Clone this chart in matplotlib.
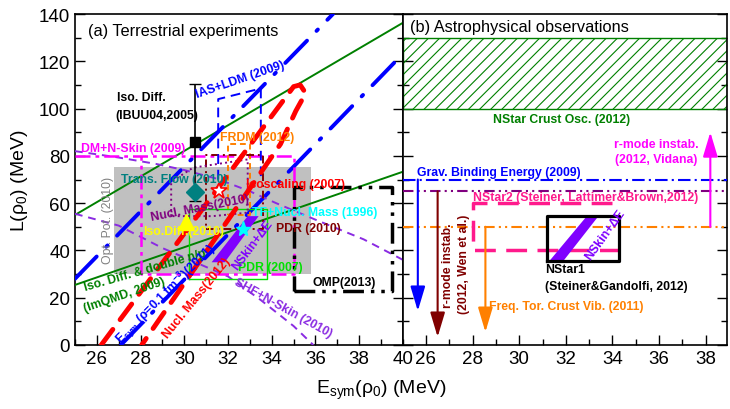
import numpy as np
import matplotlib.pyplot as plt
from matplotlib.ticker import MultipleLocator

plt.rcParams['font.family'] = ['Liberation Sans', 'DejaVu Sans']
plt.rcParams['mathtext.default'] = 'regular'
plt.rcParams['hatch.linewidth'] = 0.8

# ---------------- panel (a): terrestrial experiments ----------------
# boxes: [Esym lo, Esym hi, L lo, L hi]
opt_pot = [26.8, 35.8, 30.2, 75.2]
dm_nskin = [28.0, 35.0, 30.0, 80.0]
frdm = [32.0, 33.0, 55.0, 85.0]
pdr10 = [31.0, 33.6, 49.1, 80.5]
pdr07 = [30.2, 33.8, 28.0, 57.5]
omp13 = [35.0, 39.5, 23.0, 67.0]

# IAS+LDM (open bottom, tilted top)
ias_x = [31.55, 31.55, 33.5, 33.5]
ias_y = [70.0, 104.0, 108.5, 70.0]

# Nucl. Mass (2010) contour
nm10_x = [29.4, 29.4, 30.4, 32.9, 32.9, 31.3, 29.4]
nm10_y = [54.5, 69.0, 75.0, 78.5, 56.0, 54.5, 54.5]

# Nucl. Mass (2012) contour
nm12_x = [26.2, 35.0, 35.3, 35.55, 35.1, 34.4, 28.05]
nm12_y = [0.0, 109.3, 110.0, 106.5, 99.0, 85.0, 0.0]

# ImQMD (2009) boundaries
imqmd_x = [25.0, 40.0]
imqmd_hi = [55.0, 136.3]
imqmd_lo = [25.4, 73.3]

# Esym(rho=0.1 fm^-3) (2011) boundaries
esym_a_x = [25.0, 36.8]
esym_a_y = [28.0, 140.0]
esym_b_x = [27.1, 40.0]
esym_b_y = [0.0, 123.2]

# SHF + N-skin (2010) boundaries
shf_hi_x = [25, 27, 28.7, 30, 31.5, 33, 34.2, 36, 38.2, 40]
shf_hi_y = [82, 79.3, 76.6, 74, 70.3, 65, 60, 53, 44.7, 36]
shf_lo_x = [25, 27, 29, 30.5, 32, 33.5, 35, 35.9]
shf_lo_y = [55.5, 50.5, 41, 35, 29, 19, 8, 0]

# NSkin + dE band
nskin_x = [31.25, 31.85, 33.4, 32.9]
nskin_y = [35.0, 35.0, 54.5, 54.5]

# single points
ibuu_E, ibuu_L, ibuu_up, ibuu_dn = 30.5, 86.0, 24.5, 25.0
flow_E, flow_L = 30.5, 64.6
isoscal_E, isoscal_L = 31.6, 65.0
isodiff10_E, isodiff10_L = 30.1, 52.0
tf_E, tf_L = 32.7, 49.0

# ---------------- panel (b): astrophysical observations ----------------
crust_osc = [100.0, 130.0]
grav_L, grav_x, grav_end = 70.0, 25.65, 14.4
wen_L, wen_x, wen_end = 65.0, 26.5, 3.4
tor_L, tor_x, tor_end = 50.0, 28.55, 5.5
vid_x, vid_start, vid_end = 38.2, 50.0, 90.0
nstar2 = [28.0, 34.0, 40.0, 60.0]
nstar1 = [31.2, 34.3, 35.6, 54.6]


def box(b):
    return [b[0], b[1], b[1], b[0], b[0]], [b[2], b[2], b[3], b[3], b[2]]


fig = plt.figure(figsize=(7.3, 4.1), dpi=100)
ax1 = fig.add_axes([0.1027, 0.1561, 0.4493, 0.8073])
ax2 = fig.add_axes([0.5516, 0.1561, 0.4438, 0.8073])

fs_lab = 8.8

# ---- panel (a) ----
ax = ax1
ax.fill_between(opt_pot[:2], opt_pot[2], opt_pot[3], color='#c0c0c0', lw=0, zorder=1)

ax.plot(imqmd_x, imqmd_hi, color='#008000', lw=1.4, zorder=3)
ax.plot(imqmd_x, imqmd_lo, color='#008000', lw=1.4, zorder=3)

ax.plot(esym_a_x, esym_a_y, color='#0000ff', lw=2.8, ls=(0, (8, 3.5, 0.5, 3.5)),
        dash_capstyle='round', zorder=3)
ax.plot(esym_b_x, esym_b_y, color='#0000ff', lw=2.8, ls=(0, (8, 3.5, 0.5, 3.5)),
        dash_capstyle='round', zorder=3)

ax.plot(nm12_x, nm12_y, color='#ff0000', lw=3.5, ls=(0, (4, 2.5)),
        dash_capstyle='round', zorder=4)

ax.plot(shf_hi_x, shf_hi_y, color='#8a2be2', lw=1.4, ls=(0, (4, 3)), zorder=3)
ax.plot(shf_lo_x, shf_lo_y, color='#8a2be2', lw=1.4, ls=(0, (4, 3)), zorder=3)

# DM+N-Skin: top edge runs in from the left axis
lo, hi, bot, top = dm_nskin
ax.plot([25.0, hi, hi, lo, lo], [top, top, bot, bot, top], color='#ff00ff', lw=1.8,
        ls=(0, (6, 2, 1.5, 2)), zorder=3)
bx, by = box(frdm)
ax.plot(bx, by, color='#ff8000', lw=1.4, ls=(0, (3, 2)), zorder=3)
bx, by = box(pdr10)
ax.plot(bx, by, color='#800000', lw=1.4, ls=(0, (4, 2, 1, 2)), zorder=3)
bx, by = box(pdr07)
ax.plot(bx, by, color='#00e000', lw=1.0, zorder=3)
bx, by = box(omp13)
ax.plot(bx, by, color='black', lw=2.5, ls=(0, (6, 2, 1, 2, 1, 2)), zorder=3)
ax.plot(ias_x, ias_y, color='#0000ff', lw=1.4, ls=(0, (5, 3)), zorder=3)
ax.plot(nm10_x, nm10_y, color='#800080', lw=1.4, ls=':', zorder=3)

ax.fill(nskin_x, nskin_y, color='#7f00ff', lw=0, zorder=5)

ax.errorbar([ibuu_E], [ibuu_L], yerr=[[ibuu_dn], [ibuu_up]], fmt='s', color='black',
            ms=7, lw=1.2, capsize=4, zorder=6)
ax.plot([flow_E], [flow_L], 'D', color='#008080', ms=9, zorder=6)
ax.plot([isoscal_E], [isoscal_L], '*', mfc='white', mec='#ff0000', mew=1.2, ms=12, zorder=6)
ax.plot([isodiff10_E], [isodiff10_L], '^', color='#ffff00', ms=11, zorder=6)
ax.plot([tf_E], [tf_L], '*', color='#00ffff', ms=11, zorder=6)

kw = dict(fontsize=fs_lab, fontweight='bold', ha='center', va='center',
          rotation_mode='anchor', zorder=7)
ax.text(26.9, 104.9, 'Iso. Diff.', color='black', **{**kw, 'ha': 'left'})
ax.text(26.83, 97.3, '(IBUU04,2005)', color='black', **{**kw, 'ha': 'left'})
ax.text(32.57, 112.5, 'IAS+LDM (2009)', color='#0000ff', rotation=19, **kw)
ax.text(33.35, 88.0, 'FRDM (2012)', color='#ff8000', **kw)
ax.text(27.66, 83.3, 'DM+N-Skin (2009)', color='#ff00ff', **kw)
ax.text(29.54, 70.2, 'Trans. Flow (2010)', color='#008080', **kw)
ax.text(35.09, 68.1, 'Isoscaling (2007)', color='#ff0000', **kw)
ax.text(30.7, 58.0, 'Nucl. Mass(2010)', color='#800080', rotation=11, **kw)
ax.text(35.96, 56.3, 'TF+Nucl. Mass (1996)', color='#00ffff', **kw)
ax.text(35.69, 49.5, 'PDR (2010)', color='#800000', **kw)
ax.text(29.98, 48.2, 'Iso.Diff.(2010)', color='#ffff00', **kw)
ax.text(33.95, 33.0, 'PDR (2007)', color='#00e000', **kw)
ax.text(37.3, 26.6, 'OMP(2013)', color='black', **kw)
ax.text(26.51, 53.3, 'Opt. Pot. (2010)', color='#808080', fontsize=fs_lab,
        rotation=90, ha='center', va='center', zorder=7)
ax.text(28.21, 31.7, 'Iso. Diff. & double n/p', color='#008000', rotation=16, **kw)
ax.text(27.26, 21.2, '(ImQMD, 2009)', color='#008000', rotation=19, **kw)
ax.text(29.13, 21.6, r'E$_{sym}$ ($\rho$=0.1 fm$^{-3}$)(2011)', color='#0000ff',
        rotation=45, **kw)
ax.text(30.58, 20.2, 'Nucl. Mass(2012)', color='#ff0000', rotation=51, **kw)
ax.text(33.14, 42.7, 'NSkin+ΔE', color='#7f00ff', rotation=53, **kw)
ax.text(34.52, 16.1, 'SHF+N-Skin (2010)', color='#8a2be2', rotation=-29, **kw)
ax.text(0.04, 0.949, '(a) Terrestrial experiments', transform=ax.transAxes,
        fontsize=11.8, ha='left', va='center')

ax.set_xlim(25, 40)
ax.set_ylim(0, 140)

# ---- panel (b) ----
ax = ax2
xl = [25.0, 38.9]
ax.fill_between(xl, crust_osc[0], crust_osc[1], facecolor='none', edgecolor='#008000',
                hatch='///', lw=1.0, zorder=2)
ax.plot(xl, [grav_L, grav_L], color='#0000ff', lw=1.5, ls=(0, (6, 2, 1, 2)), zorder=3)
ax.plot(xl, [wen_L, wen_L], color='#800080', lw=1.5, ls=(0, (5, 2, 1, 2, 1, 2)), zorder=3)
ax.plot(xl, [tor_L, tor_L], color='#ff8000', lw=1.5, ls=(0, (5, 2, 1, 2, 1, 2)), zorder=3)

ax.plot([nstar2[1], nstar2[0], nstar2[0], nstar2[1] + 0.3],
        [nstar2[3], nstar2[3], nstar2[2], nstar2[2]],
        color='#ff1a8c', lw=2.5, ls=(0, (6, 3)), zorder=3)
ax.fill(nskin_x, nskin_y, color='#7f00ff', lw=0, zorder=4)
bx, by = box(nstar1)
ax.plot(bx, by, color='black', lw=2.3, zorder=5)

akw = dict(arrowstyle='-|>,head_length=1.0,head_width=0.3', lw=1.5,
           shrinkA=0, shrinkB=0, mutation_scale=15)
ax.annotate('', xy=(grav_x, grav_end), xytext=(grav_x, grav_L),
            arrowprops=dict(color='#0000ff', **akw))
ax.annotate('', xy=(wen_x, wen_end), xytext=(wen_x, wen_L),
            arrowprops=dict(color='#800000', **akw))
ax.annotate('', xy=(tor_x, tor_end), xytext=(tor_x, tor_L),
            arrowprops=dict(color='#ff8000', **akw))
ax.annotate('', xy=(vid_x, vid_end), xytext=(vid_x, vid_start),
            arrowprops=dict(color='#ff00ff', **akw))

ax.text(31.83, 95.6, 'NStar Crust Osc. (2012)', color='#008000', **kw)
ax.text(35.9, 85.0, 'r-mode instab.', color='#ff00ff', **kw)
ax.text(35.86, 78.7, '(2012, Vidana)', color='#ff00ff', **kw)
ax.text(25.6, 73.2, 'Grav. Binding Energy (2009)', color='#0000ff', **{**kw, 'ha': 'left'})
ax.text(28.0, 62.6, 'NStar2 (Steiner, Lattimer&Brown,2012)', color='#ff1a8c',
        **{**kw, 'ha': 'left'})
ax.text(31.1, 32.1, 'NStar1', color='black', **{**kw, 'ha': 'left'})
ax.text(31.1, 25.0, '(Steiner&Gandolfi, 2012)', color='black', **{**kw, 'ha': 'left'})
ax.text(26.95, 34.0, 'r-mode instab.', color='#800000', rotation=90, **kw)
ax.text(27.65, 34.5, '(2012, Wen et al.)', color='#800000', rotation=90, **kw)
ax.text(28.7, 16.5, 'Freq. Tor. Crust Vib. (2011)', color='#ff8000', **{**kw, 'ha': 'left'})
ax.text(33.67, 47.0, 'NSkin+ΔE', color='#7f00ff', rotation=54, **kw)
ax.text(0.0225, 0.961, '(b) Astrophysical observations', transform=ax.transAxes,
        fontsize=11.8, ha='left', va='center')

ax.set_xlim(xl)
ax.set_ylim(0, 140)

for a in (ax1, ax2):
    a.xaxis.set_major_locator(MultipleLocator(2))
    a.xaxis.set_minor_locator(MultipleLocator(1))
    a.yaxis.set_major_locator(MultipleLocator(20))
    a.yaxis.set_minor_locator(MultipleLocator(10))
    a.tick_params(which='both', direction='in', top=False, right=True, labelsize=13.5,
                  width=1.0)
    a.tick_params(which='major', length=7)
    a.tick_params(which='minor', length=4)
    for s in a.spines.values():
        s.set_linewidth(1.2)
ax1.set_xticks(np.arange(26, 41, 2))
ax2.set_xticks(np.arange(26, 39, 2))
ax2.tick_params(labelleft=False)

fig.text(20 / 730, 0.56, r'L($\rho_0$) (MeV)', rotation=90, fontsize=14,
         ha='center', va='center')
fig.text(381 / 730, 0.049, r'E$_{sym}$($\rho_0$) (MeV)', fontsize=14,
         ha='center', va='center')

fig.savefig('out.png', dpi=100)
